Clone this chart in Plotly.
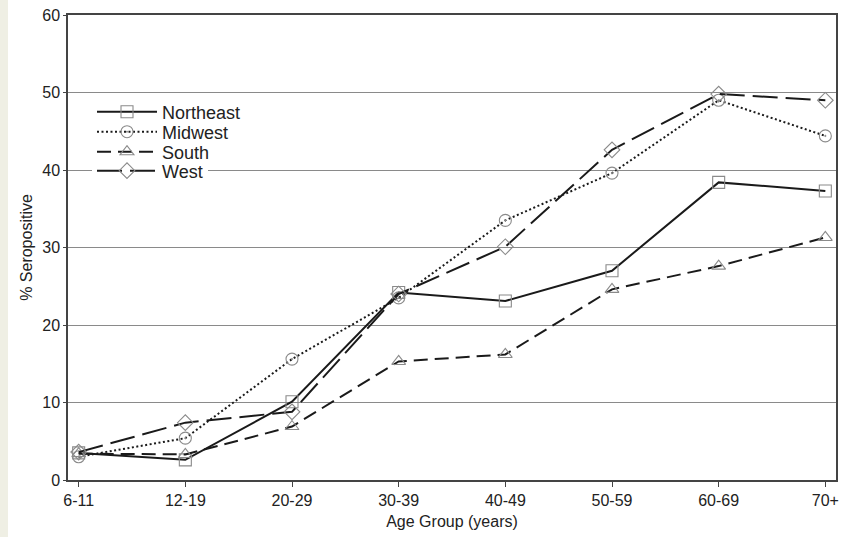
import plotly.graph_objects as go

age_groups = ["6-11", "12-19", "20-29", "30-39", "40-49", "50-59", "60-69", "70+"]
northeast = [3.5, 2.6, 10.1, 24.2, 23.1, 27.0, 38.4, 37.3]
midwest = [3.0, 5.4, 15.6, 23.5, 33.5, 39.6, 49.0, 44.4]
south = [3.4, 3.3, 6.9, 15.3, 16.2, 24.6, 27.6, 31.3]
west = [3.6, 7.4, 8.8, 24.0, 30.1, 42.6, 49.8, 49.0]

series = [
    ("Northeast", northeast, "solid", "square-open", "legend2"),
    ("Midwest", midwest, "2px,2.5px", "circle-open-dot", "legend3"),
    ("South", south, "14px,7px", "triangle-up-open", "legend4"),
    ("West", west, "25px,8px", "diamond-open", "legend"),
]

W, H = 851, 537
L, R, T, B = 68, 15, 15, 57
pw = W - L - R
ph = H - T - B
legend_rows_px = [112, 132, 152, 171]

xs = list(range(len(age_groups)))
fig = go.Figure()
legend_layouts = {}
for i, (name, vals, dash, sym, lname) in enumerate(series):
    fig.add_trace(go.Scatter(
        x=xs, y=vals, name=name, mode="lines+markers", legend=lname,
        line=dict(color="#1a1a1a", width=2, dash=dash),
        marker=dict(symbol=sym, size=12, color="#8a8a8a", line=dict(width=1.1, color="#8a8a8a")),
    ))
    legend_layouts[lname] = dict(
        x=(92 - L) / pw, y=(480 - legend_rows_px[i]) / ph, xanchor="left", yanchor="middle",
        bgcolor="white" if lname == "legend" else "rgba(0,0,0,0)", borderwidth=0, itemwidth=60,
        font=dict(size=18, color="#222"),
    )

fig.update_layout(
    width=W, height=H,
    margin=dict(l=L, r=R, t=T, b=B, autoexpand=False),
    paper_bgcolor="white", plot_bgcolor="white",
    font=dict(family="Liberation Sans, Arial, sans-serif", size=16, color="#222"),
    showlegend=True,
    xaxis=dict(
        range=[-0.1, 7.1], tickmode="array", tickvals=xs, ticktext=age_groups,
        showgrid=False, zeroline=False, showline=True, linecolor="#444", linewidth=1.5,
        mirror=True, ticks="outside", ticklen=5, tickcolor="#444", automargin=False,
        tickfont=dict(size=16),
        title=dict(text="Age Group (years)", font=dict(size=16), standoff=8),
    ),
    yaxis=dict(
        range=[0, 60], tickvals=[0, 10, 20, 30, 40, 50, 60],
        showgrid=True, gridcolor="#8a8a8a", gridwidth=1, zeroline=False,
        showline=True, linecolor="#444", linewidth=1.5, mirror=True,
        ticks="outside", ticklen=3, tickcolor="#444", automargin=False,
        tickfont=dict(size=16),
        title=dict(text="% Seropositive", font=dict(size=16), standoff=6),
    ),
    shapes=[dict(
        type="rect", xref="paper", yref="paper",
        x0=-L / pw, x1=(8 - L) / pw, y0=-B / ph, y1=(H - B) / ph + T / ph,
        fillcolor="#efefe4", line=dict(width=0), layer="below",
    )],
    **legend_layouts,
)

fig.write_html("out.html", config={"displayModeBar": False},
               post_script="document.body.style.margin='0';")
